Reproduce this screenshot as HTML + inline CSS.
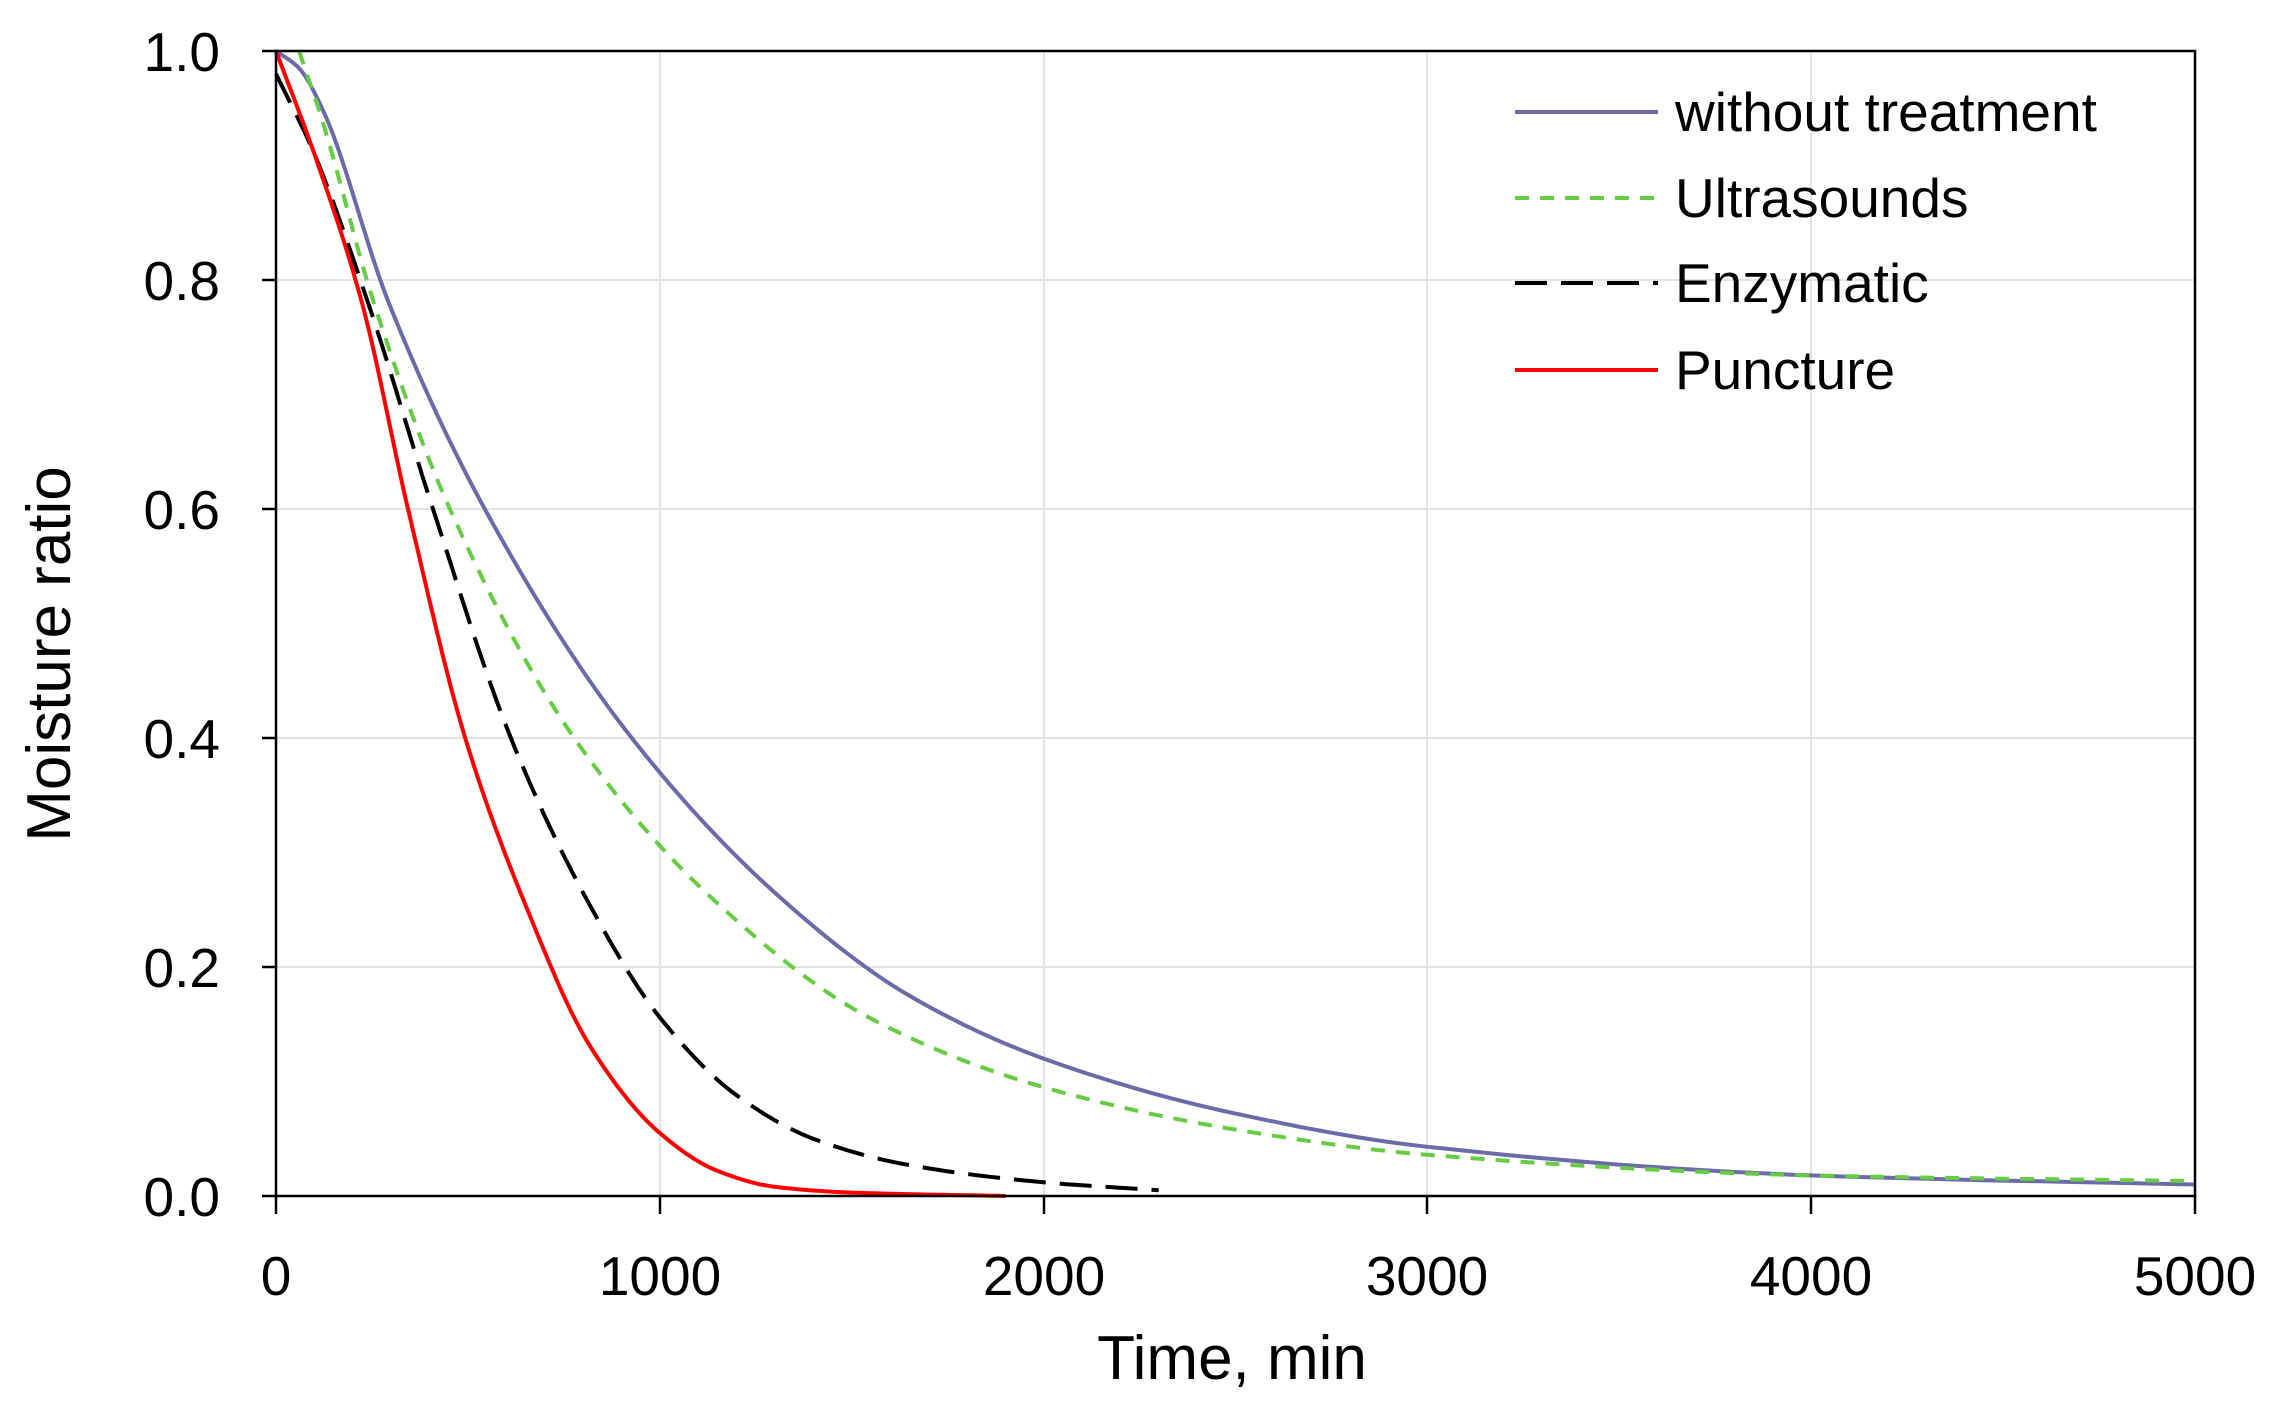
<!DOCTYPE html>
<html><head><meta charset="utf-8"><style>
body{margin:0;background:#fff}
svg text{font-family:"Liberation Sans",sans-serif;fill:#000}
</style></head><body>
<svg id="s" width="2278" height="1412" viewBox="0 0 2278 1412" xmlns="http://www.w3.org/2000/svg">
<rect width="2278" height="1412" fill="#fff"/>
<g stroke="#e3e3e3" stroke-width="2">
<line x1="276" y1="280" x2="2195" y2="280"/><line x1="276" y1="509" x2="2195" y2="509"/>
<line x1="276" y1="738" x2="2195" y2="738"/><line x1="276" y1="967" x2="2195" y2="967"/>
<line x1="660" y1="51" x2="660" y2="1196"/><line x1="1044" y1="51" x2="1044" y2="1196"/>
<line x1="1427" y1="51" x2="1427" y2="1196"/><line x1="1811" y1="51" x2="1811" y2="1196"/>
</g>
<g id="curves" fill="none" stroke-width="4"></g>
<rect x="276" y="51" width="1919" height="1145" fill="none" stroke="#000" stroke-width="2.5"/>
<g stroke="#000" stroke-width="2.5">
<line x1="262" y1="51" x2="276" y2="51"/><line x1="262" y1="280" x2="276" y2="280"/><line x1="262" y1="509" x2="276" y2="509"/>
<line x1="262" y1="738" x2="276" y2="738"/><line x1="262" y1="967" x2="276" y2="967"/><line x1="262" y1="1196" x2="276" y2="1196"/>
<line x1="276" y1="1196" x2="276" y2="1214"/><line x1="660" y1="1196" x2="660" y2="1214"/><line x1="1044" y1="1196" x2="1044" y2="1214"/>
<line x1="1427" y1="1196" x2="1427" y2="1214"/><line x1="1811" y1="1196" x2="1811" y2="1214"/><line x1="2195" y1="1196" x2="2195" y2="1214"/>
</g>
<g font-size="55" text-anchor="end">
<text x="220" y="71">1.0</text><text x="220" y="300">0.8</text><text x="220" y="529">0.6</text>
<text x="220" y="758">0.4</text><text x="220" y="987">0.2</text><text x="220" y="1216">0.0</text>
</g>
<g font-size="55" text-anchor="middle">
<text x="276" y="1295">0</text><text x="660" y="1295">1000</text><text x="1044" y="1295">2000</text>
<text x="1427" y="1295">3000</text><text x="1811" y="1295">4000</text><text x="2195" y="1295">5000</text>
</g>
<text x="1232" y="1379" font-size="62" text-anchor="middle">Time, min</text>
<text transform="translate(70,654) rotate(-90)" font-size="62" text-anchor="middle">Moisture ratio</text>
<line x1="1515" y1="112" x2="1658" y2="112" stroke="#6b6baa" stroke-width="4"/>
<line x1="1515" y1="198" x2="1658" y2="198" stroke="#66cc44" stroke-width="4" stroke-dasharray="14 11"/>
<line x1="1515" y1="283" x2="1658" y2="283" stroke="#000" stroke-width="4" stroke-dasharray="32 14"/>
<line x1="1515" y1="370" x2="1658" y2="370" stroke="#ff0000" stroke-width="4"/>
<g font-size="55">
<text x="1675" y="131">without treatment</text><text x="1675" y="217">Ultrasounds</text>
<text x="1675" y="302">Enzymatic</text><text x="1675" y="389">Puncture</text>
</g>
</svg>
<script>
var X=function(t){return 276+t*0.3838},Y=function(v){return 1196-v*1145};
function mono(pts){
 var n=pts.length,xs=pts.map(function(a){return a[0]}),ys=pts.map(function(a){return a[1]});
 var d=[],m=[];
 for(var i=0;i<n-1;i++)d.push((ys[i+1]-ys[i])/(xs[i+1]-xs[i]));
 m[0]=d[0];m[n-1]=d[n-2];
 for(i=1;i<n-1;i++){ if(d[i-1]*d[i]<=0)m[i]=0; else {var w1=2*(xs[i+1]-xs[i])+(xs[i]-xs[i-1]),w2=(xs[i+1]-xs[i])+2*(xs[i]-xs[i-1]);m[i]=(w1+w2)/(w1/d[i-1]+w2/d[i]);}}
 var s="";
 for(i=0;i<n-1;i++){
  var h=xs[i+1]-xs[i];
  for(var k=(i==0?0:1);k<=20;k++){
   var t=k/20,h00=2*t*t*t-3*t*t+1,h10=t*t*t-2*t*t+t,h01=-2*t*t*t+3*t*t,h11=t*t*t-t*t;
   var y=h00*ys[i]+h10*h*m[i]+h01*ys[i+1]+h11*h*m[i+1],x=xs[i]+t*h;
   s+=(s?"L":"M")+X(x).toFixed(1)+","+Y(y).toFixed(1);
  }
 }
 return s;
}
var series=[
 ["#6b6baa","",[[0,1],[60,0.985],[120,0.95],[294,0.78],[544,0.6],[927,0.4],[1316,0.26],[1650,0.175],[2000,0.12],[2500,0.072],[3000,0.043],[4000,0.018],[5000,0.010]]],
 ["#66cc44","14 11",[[60,1],[120,0.94],[255,0.78],[453,0.6],[777,0.4],[1136,0.26],[1550,0.155],[2000,0.095],[2500,0.058],[3000,0.036],[4000,0.018],[5000,0.013]]],
 ["#000","32 14",[[0,0.98],[100,0.91],[240,0.78],[409,0.6],[612,0.4],[808,0.26],[1000,0.156],[1200,0.088],[1400,0.05],[1650,0.027],[2000,0.012],[2300,0.005]]],
 ["#ff0000","",[[0,1],[100,0.91],[224,0.78],[344,0.6],[493,0.4],[643,0.26],[820,0.13],[1000,0.055],[1150,0.022],[1300,0.008],[1500,0.003],[1900,0]]]
];
var g=document.getElementById("curves");
series.forEach(function(s){
 var e=document.createElementNS("http://www.w3.org/2000/svg","path");
 e.setAttribute("d",mono(s[2]));e.setAttribute("stroke",s[0]);
 if(s[1])e.setAttribute("stroke-dasharray",s[1]);
 g.appendChild(e);
});
</script>
</body></html>
